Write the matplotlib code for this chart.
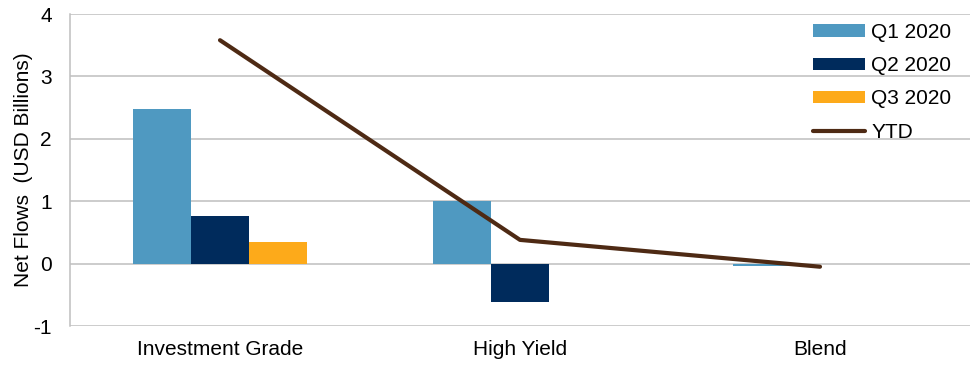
import numpy as np
import matplotlib.pyplot as plt
from matplotlib.ticker import FuncFormatter

plt.rcParams['font.family'] = ['Liberation Sans', 'DejaVu Sans']

CATEGORIES = ['Investment Grade', 'High Yield', 'Blend']
Q1_2020 = [2.47, 1.01, -0.04]
Q2_2020 = [0.77, -0.61, 0.0]
Q3_2020 = [0.34, -0.01, 0.0]
YTD = [3.58, 0.38, -0.05]

SERIES_LABELS = ['Q1 2020', 'Q2 2020', 'Q3 2020']
BAR_COLORS = ['#4F99C1', '#002B5C', '#FDAA1A']
LINE_COLOR = '#4E2A14'
GRID_COLOR = '#BFBFBF'


def main():
    fig = plt.figure(figsize=(9.72, 3.66), dpi=100)
    ax = fig.add_axes([70 / 972, 1 - 326 / 366, 900 / 972, 312 / 366])

    x = np.arange(len(CATEGORIES))
    width = 0.193
    handles = []
    for i, (vals, label, color) in enumerate(zip([Q1_2020, Q2_2020, Q3_2020], SERIES_LABELS, BAR_COLORS)):
        b = ax.bar(x + (i - 1) * width, vals, width, color=color, label=label, zorder=2)
        handles.append(b)

    line, = ax.plot(x, YTD, color=LINE_COLOR, linewidth=3, solid_capstyle='round', label='YTD', zorder=3)
    handles.append(line)

    ax.set_xlim(-0.5, 2.5)
    ax.set_ylim(-1, 4)
    ax.set_yticks([-1, 0, 1, 2, 3, 4])
    ax.yaxis.set_major_formatter(FuncFormatter(lambda v, p: '%d' % v))
    ax.set_xticks(x)
    ax.set_xticklabels(CATEGORIES)
    ax.tick_params(axis='both', length=0, labelsize=15)
    ax.tick_params(axis='x', pad=10)
    ax.tick_params(axis='y', pad=13)

    ax.grid(axis='y', color=GRID_COLOR, linewidth=1.1, zorder=0)
    for side in ['top', 'right', 'bottom']:
        ax.spines[side].set_visible(False)
    ax.spines['left'].set_color(GRID_COLOR)
    ax.spines['left'].set_linewidth(1.1)

    ax.set_ylabel('Net Flows  (USD Billions)', fontsize=15)
    ax.yaxis.set_label_coords(-37 / 900, 0.5)

    ax.legend(handles=handles, loc='upper left', bbox_to_anchor=(813 / 972, 1 - 23 / 366),
              bbox_transform=fig.transFigure, frameon=False, fontsize=15,
              borderpad=0, borderaxespad=0, handlelength=2.5, handleheight=0.55,
              handletextpad=0.3, labelspacing=0.68)

    fig.savefig('out.png', dpi=100)


if __name__ == '__main__':
    main()
